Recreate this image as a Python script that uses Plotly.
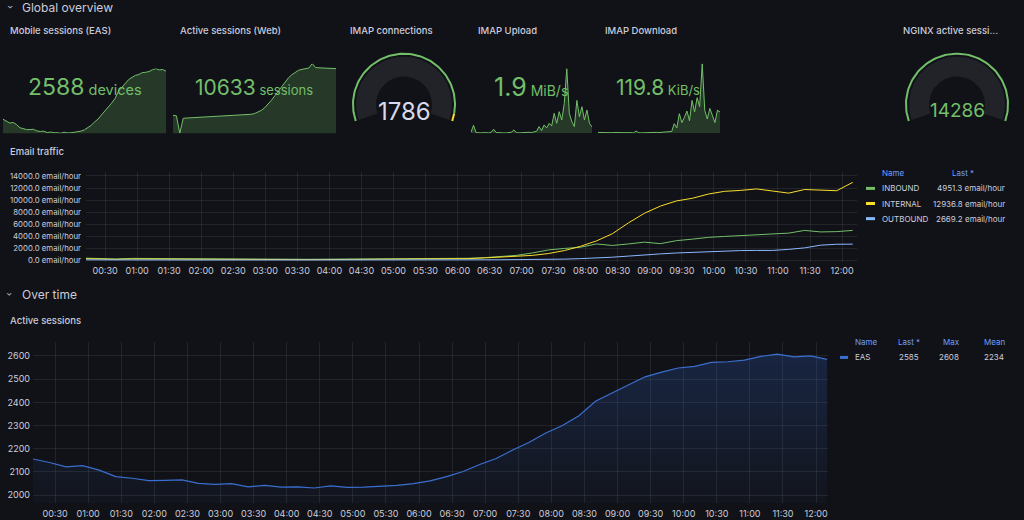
import numpy as np
import plotly.graph_objects as go

W, H = 1024, 520
BG = "#111217"
TXT = "#ccccdc"
GRID = "rgba(240,250,255,0.08)"
GREEN = "#73bf69"
YELLOW = "#fade2a"
LBLUE = "#8ab8ff"
EASBLUE = "#3a6fd2"
HDR = "#6e9fff"
FONT = "Inter"

# ---------------- data ----------------
times = [
    "2024-01-01 00:10", "2024-01-01 00:25", "2024-01-01 00:40", "2024-01-01 00:55",
    "2024-01-01 01:10", "2024-01-01 01:25", "2024-01-01 01:40", "2024-01-01 01:55",
    "2024-01-01 02:10", "2024-01-01 02:25", "2024-01-01 02:40", "2024-01-01 02:55",
    "2024-01-01 03:10", "2024-01-01 03:25", "2024-01-01 03:40", "2024-01-01 03:55",
    "2024-01-01 04:10", "2024-01-01 04:25", "2024-01-01 04:40", "2024-01-01 04:55",
    "2024-01-01 05:10", "2024-01-01 05:25", "2024-01-01 05:40", "2024-01-01 05:55",
    "2024-01-01 06:10", "2024-01-01 06:25", "2024-01-01 06:40", "2024-01-01 06:55",
    "2024-01-01 07:10", "2024-01-01 07:25", "2024-01-01 07:40", "2024-01-01 07:55",
    "2024-01-01 08:10", "2024-01-01 08:25", "2024-01-01 08:40", "2024-01-01 08:55",
    "2024-01-01 09:10", "2024-01-01 09:25", "2024-01-01 09:40", "2024-01-01 09:55",
    "2024-01-01 10:10", "2024-01-01 10:25", "2024-01-01 10:40", "2024-01-01 10:55",
    "2024-01-01 11:10", "2024-01-01 11:25", "2024-01-01 11:40", "2024-01-01 11:55",
    "2024-01-01 12:10",
]

eas_sessions = [
    2156, 2141, 2122, 2127, 2108, 2080, 2073, 2063, 2064, 2066, 2051, 2047,
    2050, 2036, 2042, 2035, 2036, 2031, 2040, 2034, 2035, 2038, 2042, 2050,
    2062, 2080, 2102, 2132, 2158, 2195, 2228, 2268, 2300, 2342, 2405, 2440,
    2475, 2510, 2530, 2548, 2555, 2572, 2575, 2582, 2598, 2608, 2596, 2600,
    2585,
]

web_sessions = [
    5400, 5350, 3400, 5070, 5100, 5120, 5150, 5170, 5200, 5210, 5230, 5250,
    5260, 5280, 5300, 5320, 5330, 5350, 5370, 5400, 5420, 5450, 5480, 5520,
    5600, 5750, 5950, 6250, 6650, 7100, 7600, 8100, 8650, 9150, 9600, 9950,
    10250, 10450, 10550, 10600, 10700, 11190, 10750, 10720, 10700, 10680, 10700, 10650,
    10633,
]

imap_upload = [
    0.3, 2.4, 0.2, 0.1, 0.1, 0.2, 0.1, 0.1, 0.3, 1.2, 0.2, 0.1,
    0.2, 0.1, 0.1, 0.2, 0.3, 1.0, 0.2, 0.1, 0.2, 0.1, 0.2, 0.3,
    0.2, 0.4, 0.6, 2.0, 0.8, 2.5, 1.6, 3.0, 2.2, 6.0, 3.0, 6.5,
    4.0, 9.0, 19.5, 6.0, 3.5, 2.0, 9.9, 5.0, 8.0, 4.0, 7.0, 3.0,
    1.9,
]

imap_download = [
    4, 3, 5, 3, 2, 3, 4, 3, 2, 3, 2, 3,
    4, 3, 2, 12, 3, 2, 3, 2, 3, 4, 3, 5,
    4, 6, 8, 6, 9, 10, 54, 30, 110, 60, 90, 125,
    70, 185, 120, 200, 150, 392, 130, 80, 140, 95, 60, 130,
    119.8,
]

email_inbound = [
    350, 250, 200, 300, 280, 230, 200, 180, 170, 160, 160, 150,
    160, 150, 150, 170, 180, 170, 190, 200, 200, 220, 240, 270,
    320, 420, 560, 800, 1200, 1700, 1950, 2150, 2700, 2450, 2700, 3000,
    2750, 3250, 3500, 3800, 3950, 4100, 4200, 4350, 4500, 4950, 4700, 4750,
    4951.3,
]
email_internal = [
    250, 180, 150, 200, 180, 150, 130, 120, 110, 100, 100, 90,
    100, 90, 90, 100, 110, 100, 110, 120, 130, 150, 170, 200,
    260, 380, 500, 620, 800, 1100, 1600, 2300, 3200, 4400, 6200, 7800,
    9000, 9850, 10300, 11000, 11450, 11600, 11850, 11500, 11150, 11750, 11650, 11550,
    12936.8,
]
email_outbound = [
    60, 40, 35, 45, 40, 35, 30, 30, 30, 25, 25, 30,
    30, 25, 30, 30, 35, 30, 35, 40, 40, 45, 50, 55,
    60, 65, 70, 75, 80, 100, 180, 260, 350, 500, 680, 900,
    1050, 1200, 1330, 1430, 1520, 1600, 1620, 1620, 1800, 2050, 2500, 2650,
    2669.2,
]

email_names = ["INBOUND", "INTERNAL", "OUTBOUND"]
email_last = ["4951.3 email/hour", "12936.8 email/hour", "2669.2 email/hour"]
eas_legend = {"Name": "EAS", "Last *": "2585", "Max": "2608", "Mean": "2234"}

stat_mobile = ("2588", "devices")
stat_web = ("10633", "sessions")
stat_upload = ("1.9", "MiB/s")
stat_download = ("119.8", "KiB/s")

imap_connections = 1786
imap_gauge_max = 2000
imap_yellow_from = 1920
nginx_sessions = 14286

email_ticks_y = [0, 2000, 4000, 6000, 8000, 10000, 12000, 14000]
email_unit = "email/hour"
eas_ticks_y = [2000, 2100, 2200, 2300, 2400, 2500, 2600]


# ---------------- helpers ----------------
def fx(x):
    return x / W


def fy(y):
    return 1 - y / H


fig = go.Figure()

# --- Email traffic chart (x, y) ---
for name, vals, col in zip(email_names, [email_inbound, email_internal, email_outbound],
                           [GREEN, YELLOW, LBLUE]):
    fig.add_trace(go.Scatter(x=times, y=vals, mode="lines", name=name,
                             line=dict(color=col, width=1), xaxis="x", yaxis="y",
                             showlegend=False))

# --- EAS active sessions chart (x2, y2) ---
fig.add_trace(go.Scatter(
    x=times, y=eas_sessions, mode="lines", line=dict(color=EASBLUE, width=1.2),
    fill="tozeroy",
    fillgradient=dict(type="vertical", start=1966, stop=2660,
                      colorscale=[[0, "rgba(50,105,215,0.03)"], [1, "rgba(50,105,215,0.24)"]]),
    xaxis="x2", yaxis="y2", showlegend=False))

# --- Sparklines ---
spark_sets = [(eas_sessions, "x3", "y3"), (web_sessions, "x4", "y4"),
              (imap_upload, "x5", "y5"), (imap_download, "x6", "y6")]
for vals, xa, ya in spark_sets:
    fig.add_trace(go.Scatter(x=times, y=vals, mode="lines",
                             line=dict(color=GREEN, width=1),
                             fill="tozeroy", fillcolor="rgba(115,191,105,0.22)",
                             xaxis=xa, yaxis=ya, showlegend=False))


# --- Gauges on pixel overlay axis (x7, y7) ---
def arc(cx, cy, r, a0, a1, n=90):
    t = np.radians(np.linspace(a0, a1, n))
    return cx + r * np.cos(t), cy - r * np.sin(t)


A0, A1 = 199.0, -19.0


def frac_angle(f):
    return A0 + (A1 - A0) * f


def gauge(cx, cy, ring_color_segments):
    xo, yo = arc(cx, cy, 48, A0, A1)
    xi, yi = arc(cx, cy, 28, A1, A0)
    fig.add_trace(go.Scatter(x=np.concatenate([xo, xi, xo[:1]]),
                             y=np.concatenate([yo, yi, yo[:1]]),
                             mode="lines", fill="toself", fillcolor="#212329",
                             line=dict(width=0, color="#212329"),
                             xaxis="x7", yaxis="y7", showlegend=False, hoverinfo="skip"))
    for f0, f1, col in ring_color_segments:
        xr, yr = arc(cx, cy, 51, frac_angle(f0), frac_angle(f1))
        fig.add_trace(go.Scatter(x=xr, y=yr, mode="lines", line=dict(color=col, width=2),
                                 xaxis="x7", yaxis="y7", showlegend=False, hoverinfo="skip"))


yf = imap_yellow_from / imap_gauge_max
gauge(404, 104, [(0, yf, GREEN), (yf, 1, YELLOW)])
gauge(957, 104, [(0, 1, GREEN)])

# ---------------- layout ----------------
ax_common = dict(showline=False, zeroline=False, ticks="", fixedrange=True)
date_ax = dict(type="date", tickformat="%H:%M", dtick=1800000, tick0="2024-01-01 00:00",
               showgrid=True, gridcolor=GRID, gridwidth=1,
               tickfont=dict(size=9, color=TXT, family=FONT), **ax_common)
hidden = dict(visible=False, fixedrange=True)

layout = dict(
    width=W, height=H, margin=dict(l=0, r=0, t=0, b=0),
    paper_bgcolor=BG, plot_bgcolor="rgba(0,0,0,0)",
    font=dict(family=FONT, color=TXT),
    showlegend=False,
    xaxis=dict(domain=[fx(86), fx(857)], anchor="y", ticklabelstandoff=2,
               range=["2024-01-01 00:12:10", "2024-01-01 12:14:00"], **date_ax),
    yaxis=dict(domain=[fy(263), fy(172)], anchor="x", range=[-380, 14660],
               tickmode="array", tickvals=email_ticks_y,
               ticktext=[f"{v:.1f} {email_unit}" for v in email_ticks_y],
               showgrid=True, gridcolor=GRID, ticklabelstandoff=4,
               tickfont=dict(size=7.8, color=TXT, family=FONT), **ax_common),
    xaxis2=dict(domain=[fx(33), fx(828)], anchor="y2", ticklabelstandoff=4,
                range=["2024-01-01 00:10:00", "2024-01-01 12:10:50"], **date_ax),
    yaxis2=dict(domain=[fy(505), fy(343)], anchor="x2", range=[1966, 2660],
                tickvals=eas_ticks_y, showgrid=True, gridcolor=GRID, ticklabelstandoff=2,
                tickfont=dict(size=9, color=TXT, family=FONT), **ax_common),
    xaxis3=dict(domain=[fx(3), fx(166)], anchor="y3", type="date", **hidden),
    yaxis3=dict(domain=[fy(133), fy(68)], anchor="x3",
                range=[min(eas_sessions), max(eas_sessions)], **hidden),
    xaxis4=dict(domain=[fx(173), fx(336)], anchor="y4", type="date", **hidden),
    yaxis4=dict(domain=[fy(133), fy(63)], anchor="x4",
                range=[min(web_sessions), max(web_sessions)], **hidden),
    xaxis5=dict(domain=[fx(471), fx(592)], anchor="y5", type="date", **hidden),
    yaxis5=dict(domain=[fy(133), fy(68)], anchor="x5",
                range=[0, max(imap_upload)], **hidden),
    xaxis6=dict(domain=[fx(598), fx(720)], anchor="y6", type="date", **hidden),
    yaxis6=dict(domain=[fy(133), fy(63)], anchor="x6",
                range=[0, max(imap_download)], **hidden),
    xaxis7=dict(domain=[0, 1], anchor="y7", range=[0, W], **hidden),
    yaxis7=dict(domain=[0, 1], anchor="x7", range=[H, 0], **hidden),
)
fig.update_layout(**layout)

annotations = []
shapes = []


def text(x, y, s, size=10, color=TXT, xanchor="left", weight=None, yanchor="middle", angle=0,
         family=FONT):
    f = dict(size=size, color=color, family=family)
    if weight:
        f["weight"] = weight
    annotations.append(dict(x=fx(x), y=fy(y), xref="paper", yref="paper", text=s,
                            showarrow=False, xanchor=xanchor, yanchor=yanchor, font=f,
                            textangle=angle))


# Row headers
text(10, 6, "›", size=10, angle=90, xanchor="center", family="DejaVu Sans")
text(20, 7, "Global overview", size=12)
text(10, 295, "›", size=10, angle=90, xanchor="center", family="DejaVu Sans")
text(20, 295, "Over time", size=12)

# Panel titles
for x, s in [(8, "Mobile sessions (EAS)"), (178, "Active sessions (Web)"),
             (348, "IMAP connections"), (476, "IMAP Upload"), (603, "IMAP Download"),
             (901, "NGINX active sessi..."), (8, "Email traffic")]:
    text(x, 30 if s != "Email traffic" else 151, s, size=9.5, weight=500)
text(8, 321, "Active sessions", size=9.5, weight=500)

# Stat values
for cx, cy, (num, unit), big, small in [
    (85, 87, stat_mobile, 23, 14.5),
    (254, 87, stat_web, 21, 13),
    (531, 87, stat_upload, 25, 14),
    (658, 87, stat_download, 21, 13),
]:
    text(cx, cy, f"{num}<span style='font-size:{small}px'> {unit}</span>",
         size=big, color=GREEN, xanchor="center")

# Gauge values
text(404, 111, f"{imap_connections}", size=24, color="#d8d9ea", xanchor="center")
text(957, 110, f"{nginx_sessions}", size=19, color=GREEN, xanchor="center")

# Email legend
LS = 8
text(880, 173, "Name", size=LS, color=HDR)
text(950, 173, "Last *", size=LS, color=HDR)
for i, (name, last, col) in enumerate(zip(email_names, email_last, [GREEN, YELLOW, LBLUE])):
    yy = 188.5 + i * 15.2
    shapes.append(dict(type="line", xref="paper", yref="paper",
                       x0=fx(866), x1=fx(875), y0=fy(yy), y1=fy(yy),
                       line=dict(color=col, width=3)))
    text(880, yy, name, size=LS)
    text(1007, yy, last, size=LS, xanchor="right")

# EAS legend
text(853, 343, "Name", size=LS, color=HDR)
for k, xr in [("Last *", 922), ("Max", 962), ("Mean", 1007)]:
    text(xr, 343, k, size=LS, color=HDR, xanchor="right")
shapes.append(dict(type="line", xref="paper", yref="paper",
                   x0=fx(840), x1=fx(848), y0=fy(358.5), y1=fy(358.5),
                   line=dict(color=EASBLUE, width=3)))
text(853, 358.5, eas_legend["Name"], size=LS)
for k, xr in [("Last *", 921), ("Max", 961), ("Mean", 1006)]:
    text(xr, 358.5, eas_legend[k], size=LS, xanchor="right")

fig.update_layout(annotations=annotations, shapes=shapes)
fig.write_html("out.html")
